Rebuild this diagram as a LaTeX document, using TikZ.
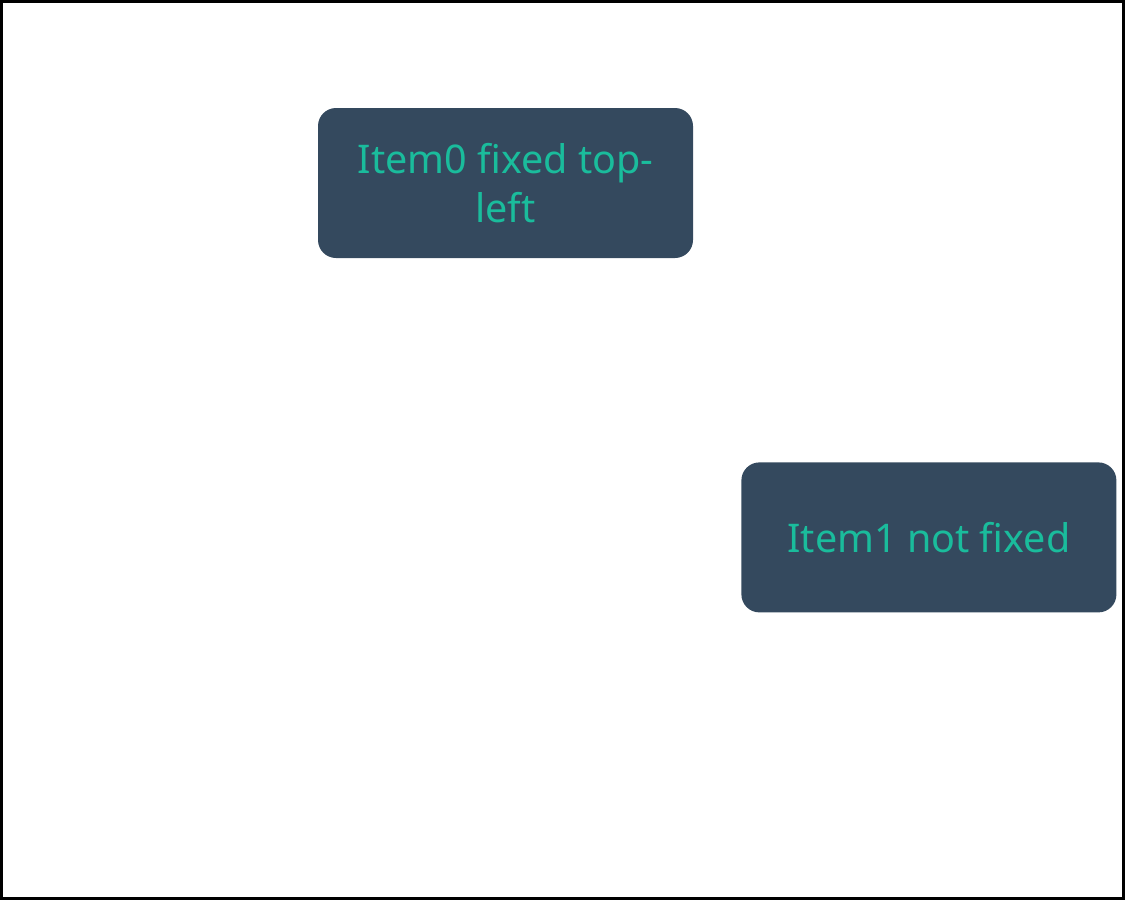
\documentclass[tikz,border=0pt]{standalone}
\usepackage{fontspec}
\setsansfont{Noto Sans}
\usepackage{tikz}
\usetikzlibrary{positioning}
\definecolor{boxfill}{HTML}{34495E}
\definecolor{boxtext}{HTML}{1ABC9C}

\begin{document}
\begin{tikzpicture}[x=1pt, y=-1pt,
  item node/.style={rectangle, rounded corners=18pt, fill=boxfill, text=boxtext,
    minimum width=375pt, minimum height=150pt, inner sep=0pt, align=center,
    font=\sffamily\fontsize{39.5}{49}\selectfont}]

\useasboundingbox (0,0) rectangle (1125,900);
\draw[line width=3pt] (1.5,1.5) rectangle (1123.5,898.5);

\node[item node] (I0) at (505.5,183) {Item0 fixed top-\\left};
\node[item node] (I1) [below right=204pt and 48pt of I0] {Item1 not fixed};
\end{tikzpicture}
\end{document}
